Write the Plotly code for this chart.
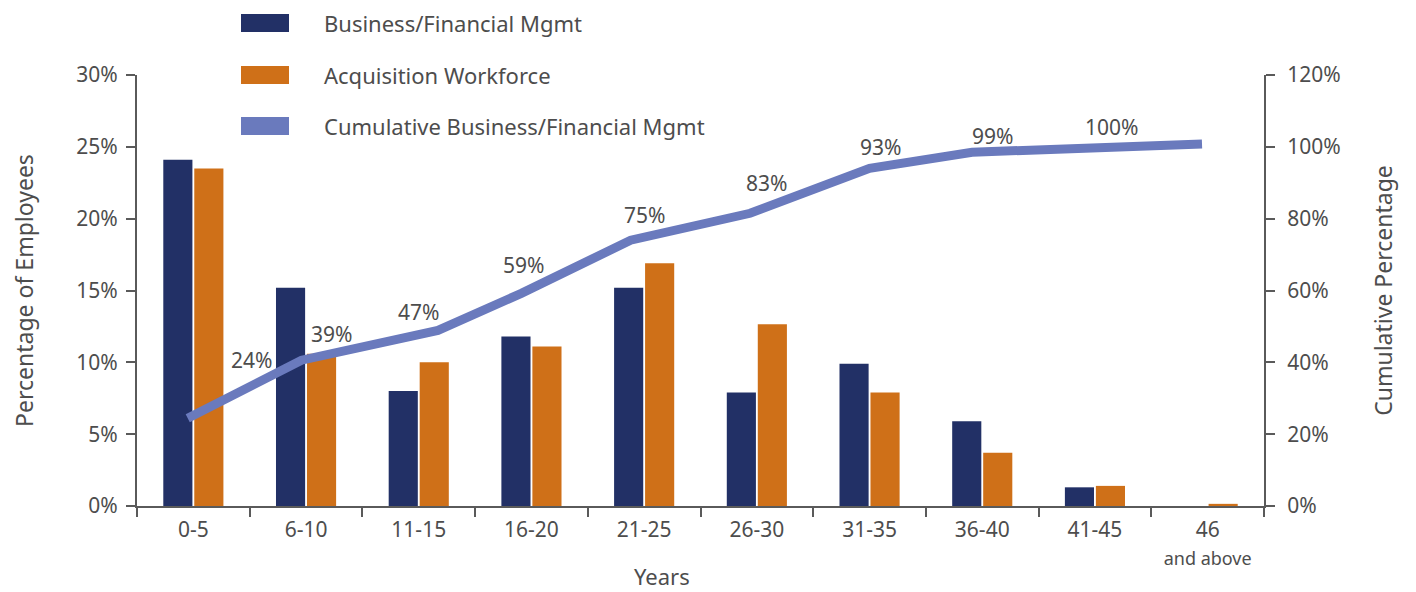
import plotly.graph_objects as go

# data
years = ["0-5", "6-10", "11-15", "16-20", "21-25", "26-30", "31-35", "36-40", "41-45", "46 and above"]
business_pct = [24.1, 15.2, 8.0, 11.8, 15.2, 7.9, 9.9, 5.9, 1.3, 0.0]
acquisition_pct = [23.5, 10.6, 10.0, 11.1, 16.9, 12.65, 7.9, 3.7, 1.4, 0.15]

# cumulative line: position along the category axis (0 = first bin) and value
cum_pos = [-0.05, 0.96, 2.17, 2.91, 3.88, 4.94, 6.0, 6.91, 8.95]
cum_pct = [24.4, 40.6, 48.9, 59.2, 74.0, 81.5, 94.0, 98.5, 100.8]
cum_labels = ["24%", "39%", "47%", "59%", "75%", "83%", "93%", "99%", "100%"]

# label nudges in pixels (x, y up)
label_shift = [(64, 58), (30, 26), (-19, 18), (2, 28), (14, 25), (16, 30), (11, 21), (20, 16), (-90, 17)]

NAVY = "#223066"
ORANGE = "#cf7018"
LINE = "#6a7abd"
TEXT = "#4d4d4d"
AXIS = "#5a5a5a"
FONT = "Noto Sans"

# the page body adds an 8px margin, so the figure is a bit smaller than the window
PAGE = 8
W, H = 1416 - PAGE, 592 - PAGE
L, R, T, B = 137 - PAGE, 152, 75 - PAGE, 86
plot_w = W - L - R
plot_h = H - T - B


def px_x(px):
    return (px - PAGE - L) / plot_w


def px_y(py):
    return (H - B - (py - PAGE)) / plot_h


tick_labels = [y if y != "46 and above" else "46<br><span style='font-size:18px'>and above</span>" for y in years]

fig = go.Figure()

fig.add_trace(
    go.Bar(x=years, y=business_pct, name="Business/Financial Mgmt", marker=dict(color=NAVY, line=dict(width=0)))
)
fig.add_trace(
    go.Bar(x=years, y=acquisition_pct, name="Acquisition Workforce", marker=dict(color=ORANGE, line=dict(width=0)))
)
fig.add_trace(
    go.Scatter(
        x=cum_pos,
        y=cum_pct,
        mode="lines",
        name="Cumulative Business/Financial Mgmt",
        line=dict(color=LINE, width=9),
        xaxis="x2",
        yaxis="y2",
    )
)

annotations = []
for pos, val, txt, (dx, dy) in zip(cum_pos, cum_pct, cum_labels, label_shift):
    annotations.append(
        dict(
            x=pos, y=val, xref="x2", yref="y2", text=txt, showarrow=False,
            xshift=dx, yshift=dy, font=dict(size=21, color=TEXT),
        )
    )

# hand-made legend with wide colour keys
shapes = []
legend_items = [
    ("Business/Financial Mgmt", NAVY, 23),
    ("Acquisition Workforce", ORANGE, 75),
    ("Cumulative Business/Financial Mgmt", LINE, 126),
]
for name, color, cy in legend_items:
    shapes.append(
        dict(
            type="rect", xref="paper", yref="paper",
            x0=px_x(241), x1=px_x(289), y0=px_y(cy + 9), y1=px_y(cy - 9),
            fillcolor=color, line=dict(width=0), layer="above",
        )
    )
    annotations.append(
        dict(
            x=px_x(322), y=px_y(cy), xref="paper", yref="paper", text=name,
            showarrow=False, xanchor="left", yanchor="middle",
            font=dict(size=22, color=TEXT),
        )
    )

# x-axis title sits below the two-line last tick label
annotations.append(
    dict(
        x=px_x(662), y=px_y(576), xref="paper", yref="paper", text="Years",
        showarrow=False, xanchor="center", yanchor="middle",
        font=dict(size=22, color=TEXT),
    )
)

axis_common = dict(
    showline=True, linecolor=AXIS, linewidth=2, ticks="outside", ticklen=9,
    tickwidth=2, tickcolor=AXIS, showgrid=False, zeroline=False,
    tickfont=dict(size=21, color=TEXT), automargin=False,
)

fig.update_layout(
    width=W,
    height=H,
    margin=dict(l=L, r=R, t=T, b=B),
    paper_bgcolor="white",
    plot_bgcolor="white",
    font=dict(family=FONT, color=TEXT),
    barmode="group",
    bargap=0.45,
    bargroupgap=0.06,
    showlegend=False,
    xaxis=dict(
        **axis_common,
        type="category",
        range=[-0.5, 9.5],
        tickson="boundaries",
        tickvals=years,
        ticktext=tick_labels,
        ticklabelstandoff=4,
    ),
    xaxis2=dict(overlaying="x", range=[-0.5, 9.5], visible=False),
    yaxis=dict(
        **axis_common,
        range=[0, 30],
        dtick=5,
        ticksuffix="%",
        ticklabelstandoff=4,
        title=dict(text="Percentage of Employees", font=dict(size=23, color=TEXT), standoff=40),
    ),
    yaxis2=dict(
        **axis_common,
        overlaying="y",
        side="right",
        anchor="x",
        range=[0, 120],
        dtick=20,
        ticksuffix="%",
        ticklabelstandoff=8,
        title=dict(text="Cumulative Percentage", font=dict(size=23, color=TEXT), standoff=36),
    ),
    annotations=annotations,
    shapes=shapes,
)

fig.write_html("out.html")
